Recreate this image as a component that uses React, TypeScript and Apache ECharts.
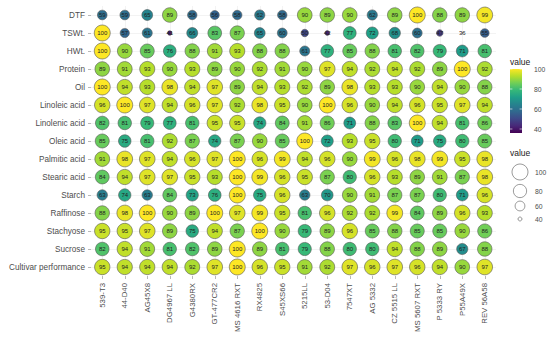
import React, { useEffect, useRef } from 'react';
import * as echarts from 'echarts';

const traits = [
  'DTF', 'TSWt.', 'HWt.', 'Protein', 'Oil', 'Linoleic acid', 'Linolenic acid', 'Oleic acid',
  'Palmitic acid', 'Stearic acid', 'Starch', 'Raffinose', 'Stachyose', 'Sucrose', 'Cultivar performance',
];

const cultivars = [
  '539-T3', '44-D40', 'AG45X8', 'DG4967 LL', 'G4380RX', 'GT-477CR2', 'MS 4616 RXT', 'RX4825', 'S45XS66',
  '5215LL', '53-D04', '7547XT', 'AG 5332', 'CZ 5515 LL', 'MS 5607 RXT', 'P 5333 RY', 'P55A49X', 'REV 56A58',
];

const DTF = [59, 59, 65, 89, 58, 56, 58, 62, 58, 90, 89, 90, 62, 89, 100, 88, 89, 99];
const TSWt = [100, 57, 61, 41, 66, 83, 87, 65, 60, 50, 42, 77, 72, 68, 60, 47, 36, 55];
const HWt = [100, 90, 85, 76, 88, 91, 93, 88, 88, 61, 77, 85, 88, 81, 82, 79, 71, 81];
const Protein = [89, 91, 93, 90, 93, 89, 90, 92, 91, 90, 97, 94, 92, 94, 92, 89, 100, 92];
const Oil = [100, 94, 93, 98, 94, 97, 89, 94, 93, 92, 89, 98, 93, 93, 90, 94, 90, 88];
const Linoleic = [96, 100, 97, 94, 96, 97, 92, 98, 95, 90, 100, 96, 90, 94, 96, 95, 97, 94];
const Linolenic = [82, 81, 79, 77, 81, 95, 95, 74, 84, 91, 86, 71, 88, 83, 100, 94, 81, 86];
const Oleic = [85, 75, 81, 92, 87, 74, 87, 90, 85, 100, 72, 93, 95, 80, 71, 75, 80, 85];
const Palmitic = [91, 98, 97, 94, 96, 97, 100, 96, 99, 94, 96, 90, 99, 96, 98, 99, 95, 98];
const Stearic = [84, 94, 97, 97, 95, 93, 100, 99, 96, 95, 87, 80, 96, 93, 89, 91, 87, 98];
const Starch = [63, 74, 63, 84, 73, 76, 100, 75, 96, 63, 70, 90, 91, 87, 87, 80, 71, 96];
const Raffinose = [88, 98, 100, 90, 89, 100, 97, 99, 95, 81, 96, 92, 92, 99, 84, 89, 96, 93];
const Stachyose = [95, 95, 97, 89, 75, 94, 87, 100, 90, 79, 89, 96, 85, 88, 85, 85, 90, 86];
const Sucrose = [82, 94, 91, 81, 82, 89, 100, 89, 81, 79, 88, 80, 80, 94, 88, 89, 67, 88];
const Performance = [95, 94, 94, 94, 92, 97, 100, 96, 95, 91, 92, 97, 96, 97, 96, 94, 90, 97];

const rowsData = [
  DTF, TSWt, HWt, Protein, Oil, Linoleic, Linolenic, Oleic, Palmitic, Stearic, Starch, Raffinose,
  Stachyose, Sucrose, Performance,
];

const colorTicks = [100, 80, 60, 40];
const sizeBreaks = [100, 80, 60, 40];
const vMin = 36;
const vMax = 100;

const viridis = [
  '#440154', '#482878', '#3e4989', '#31688e', '#26828e', '#1f9e89', '#35b779', '#6ece58', '#b5de2b', '#fde725',
];

const FONT = 'Liberation Sans, Arial, sans-serif';

function diam(v: number): number {
  return Math.max(0.5, 16 * Math.sqrt(Math.max(0, v - vMin) / (vMax - vMin)));
}

export default function App() {
  const ref = useRef<HTMLDivElement>(null);

  useEffect(() => {
    if (!ref.current) return;
    const chart = echarts.init(ref.current, undefined, { renderer: 'svg' });

    const data: any[] = [];
    rowsData.forEach((row, ri) => {
      row.forEach((v, ci) => {
        data.push([cultivars[ci], traits[ri], v]);
      });
    });

    const cbX = 510;
    const cbW = 12;
    const cbTop = 69;
    const cbH = 64;
    const cbY = (v: number) => cbTop + cbH - ((v - vMin) / (vMax - vMin)) * cbH;

    const txt = (x: number, y: number, text: string, size: number, fill: string) => ({
      type: 'text',
      x,
      y,
      style: {
        text,
        fontSize: size,
        fontFamily: FONT,
        fill,
        textVerticalAlign: 'middle',
        verticalAlign: 'middle',
      },
    });

    const graphics: any[] = [];
    graphics.push(txt(cbX, 62, 'value', 8.5, '#222'));
    graphics.push({
      type: 'rect',
      shape: { x: cbX, y: cbTop, width: cbW, height: cbH },
      style: {
        fill: new echarts.graphic.LinearGradient(
          0, 1, 0, 0,
          viridis.map((c, i) => ({ offset: i / (viridis.length - 1), color: c }))
        ),
      },
    });
    colorTicks.forEach((t) => {
      const y = cbY(t);
      graphics.push({ type: 'line', shape: { x1: cbX, y1: y, x2: cbX + 2.4, y2: y }, style: { stroke: '#fff', lineWidth: 0.6 } });
      graphics.push({ type: 'line', shape: { x1: cbX + cbW - 2.4, y1: y, x2: cbX + cbW, y2: y }, style: { stroke: '#fff', lineWidth: 0.6 } });
      graphics.push(txt(534, y, String(t), 6.8, '#4d4d4d'));
    });

    graphics.push(txt(cbX, 153, 'value', 8.5, '#222'));
    const sizeY = [172, 191, 206, 219];
    sizeBreaks.forEach((b, i) => {
      graphics.push({
        type: 'circle',
        shape: { cx: 520, cy: sizeY[i], r: diam(b) / 2 },
        style: { fill: '#fff', stroke: '#555', lineWidth: 0.6 },
      });
      graphics.push(txt(535, sizeY[i], String(b), 6.8, '#4d4d4d'));
    });

    chart.setOption({
      animation: false,
      textStyle: { fontFamily: FONT },
      grid: { left: 91, width: 405, top: 6, height: 270 },
      xAxis: {
        type: 'category',
        data: cultivars,
        boundaryGap: true,
        axisLine: { show: false },
        axisTick: { show: true, alignWithLabel: true, length: 3, lineStyle: { color: '#888', width: 0.6 } },
        splitLine: { show: false },
        axisLabel: { rotate: 90, fontSize: 7.8, color: '#4d4d4d', margin: 7, interval: 0, fontFamily: FONT },
      },
      yAxis: {
        type: 'category',
        data: traits,
        inverse: true,
        boundaryGap: true,
        axisLine: { show: false },
        axisTick: { show: true, alignWithLabel: true, length: 3, lineStyle: { color: '#888', width: 0.6 } },
        splitLine: { show: false },
        axisLabel: { fontSize: 8.2, color: '#4d4d4d', margin: 6, interval: 0, fontFamily: FONT },
      },
      visualMap: {
        show: false,
        type: 'continuous',
        seriesIndex: 1,
        dimension: 2,
        min: vMin,
        max: vMax,
        inRange: { color: viridis },
      },
      graphic: graphics,
      series: [
        {
          type: 'line',
          data: [],
          z: 0,
          silent: true,
          markLine: {
            z: 0,
            silent: true,
            symbol: 'none',
            animation: false,
            label: { show: false },
            lineStyle: { color: '#ebebeb', width: 0.6, type: 'solid' },
            data: [
              ...cultivars.map((c) => ({ xAxis: c })),
              ...traits.map((t) => ({ yAxis: t })),
            ],
          },
        },
        {
          type: 'scatter',
          z: 3,
          data,
          symbol: 'circle',
          symbolSize: (val: any) => diam(val[2]),
          itemStyle: { borderColor: '#555', borderWidth: 0.6, opacity: 1 },
          label: {
            show: true,
            position: 'inside',
            formatter: (p: any) => String(p.value[2]),
            fontSize: 6,
            color: '#222',
            textBorderWidth: 0,
            textBorderColor: 'transparent',
            fontFamily: FONT,
          },
          emphasis: { disabled: true },
        },
      ],
    });

    return () => chart.dispose();
  }, []);

  return (
    <div
      ref={ref}
      style={{ position: 'fixed', left: 0, top: 0, width: 550, height: 339, background: '#fff' }}
    />
  );
}
